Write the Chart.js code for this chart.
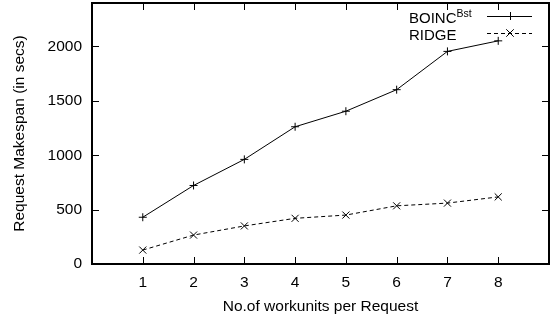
<!DOCTYPE html>
<html>
<head>
<meta charset="utf-8">
<script src="https://cdn.jsdelivr.net/npm/chart.js@4"></script>
<style>
  html, body { margin: 0; padding: 0; background: #fff; }
  #wrap { width: 552px; height: 322px; }
</style>
</head>
<body>
<div id="wrap"><canvas id="chart" width="552" height="322"></canvas></div>
<script>
// workunits per request
const workunits = [1, 2, 3, 4, 5, 6, 7, 8];
const boincBst = [430, 722, 962, 1262, 1405, 1603, 1955, 2052];
const ridge = [128, 266, 350, 420, 450, 535, 560, 617];
const yTicks = [0, 500, 1000, 1500, 2000];
const seriesNames = ['BOINC', 'RIDGE'];
const seriesSup = ['Bst', ''];

const FONT = 'Liberation Sans, Arial, Helvetica, sans-serif';
const FS = 15.5;

function toPoints(vals) {
    return workunits.map((x, i) => ({ x: x, y: vals[i] }));
}

// frame + inward ticks on all four sides, gnuplot style
const framePlugin = {
    id: 'frame',
    afterDatasetsDraw(chart) {
        const { ctx, chartArea: a, scales } = chart;
        ctx.save();
        ctx.strokeStyle = '#000';
        ctx.lineWidth = 1;
        const tl = 7;
        ctx.beginPath();
        workunits.forEach(v => {
            const px = Math.round(scales.x.getPixelForValue(v)) + 0.5;
            ctx.moveTo(px, a.bottom); ctx.lineTo(px, a.bottom - tl);
            ctx.moveTo(px, a.top); ctx.lineTo(px, a.top + tl);
        });
        yTicks.forEach(v => {
            const py = Math.round(scales.y.getPixelForValue(v)) + 0.5;
            ctx.moveTo(a.left, py); ctx.lineTo(a.left + tl, py);
            ctx.moveTo(a.right, py); ctx.lineTo(a.right - tl, py);
        });
        ctx.stroke();
        ctx.lineWidth = 2;
        ctx.strokeRect(a.left, a.top, a.right - a.left, a.bottom - a.top);
        ctx.restore();
    }
};

// key in the top right corner, text then line sample
const keyPlugin = {
    id: 'key',
    afterDraw(chart) {
        const { ctx, chartArea: a } = chart;
        ctx.save();
        ctx.fillStyle = '#000';
        ctx.textBaseline = 'alphabetic';
        chart.data.datasets.forEach((ds, i) => {
            const rowY = a.top + 13 + i * 17;
            const tx = a.right - 140;
            ctx.font = '15px ' + FONT;
            ctx.fillText(seriesNames[i], tx, rowY + 7);
            if (seriesSup[i]) {
                const w = ctx.measureText(seriesNames[i]).width;
                ctx.font = '10.5px ' + FONT;
                ctx.fillText(seriesSup[i], tx + w, rowY + 0.5);
            }
            const x0 = a.right - 62, x1 = a.right - 17;
            ctx.strokeStyle = '#000';
            ctx.lineWidth = 1;
            ctx.setLineDash(ds.borderDash || []);
            ctx.beginPath();
            ctx.moveTo(x0, rowY + 0.5);
            ctx.lineTo(x1, rowY + 0.5);
            ctx.stroke();
            ctx.setLineDash([]);
            const cx = Math.round((x0 + x1) / 2), r = ds.pointRadius;
            ctx.beginPath();
            if (ds.pointStyle === 'cross') {
                ctx.moveTo(cx - r, rowY + 0.5); ctx.lineTo(cx + r, rowY + 0.5);
                ctx.moveTo(cx + 0.5, rowY - r); ctx.lineTo(cx + 0.5, rowY + r);
            } else {
                const d = r * 0.75;
                ctx.moveTo(cx - d, rowY - d); ctx.lineTo(cx + d, rowY + d);
                ctx.moveTo(cx - d, rowY + d); ctx.lineTo(cx + d, rowY - d);
            }
            ctx.stroke();
        });
        ctx.restore();
    }
};

new Chart(document.getElementById('chart'), {
    type: 'line',
    data: {
        datasets: [{
            label: seriesNames[0],
            data: toPoints(boincBst),
            borderColor: '#000',
            borderWidth: 1,
            pointStyle: 'cross',
            pointRadius: 4,
            pointBorderColor: '#000',
            pointBorderWidth: 1,
            fill: false,
            tension: 0
        }, {
            label: seriesNames[1],
            data: toPoints(ridge),
            borderColor: '#000',
            borderWidth: 1,
            borderDash: [4, 3],
            pointStyle: 'crossRot',
            pointRadius: 5,
            pointBorderColor: '#000',
            pointBorderWidth: 1,
            fill: false,
            tension: 0
        }]
    },
    options: {
        responsive: false,
        animation: false,
        layout: { padding: { top: 3, right: 3, left: 0, bottom: 0 }, autoPadding: false },
        plugins: { legend: { display: false }, tooltip: { enabled: false } },
        scales: {
            x: {
                type: 'linear',
                min: 0,
                max: 9,
                grid: { display: false, drawTicks: false },
                border: { display: false },
                afterBuildTicks: s => { s.ticks = workunits.map(v => ({ value: v })); },
                afterFit: s => { s.height = 58; s.paddingLeft = 0; s.paddingRight = 0; },
                ticks: { color: '#000', font: { family: FONT, size: FS }, padding: 9, maxRotation: 0,
                    callback: v => String(v) },
                title: {
                    display: true,
                    text: 'No.of workunits per Request',
                    color: '#000',
                    font: { family: FONT, size: FS },
                    padding: { top: 0, bottom: 6 }
                }
            },
            y: {
                min: 0,
                max: 2400,
                grid: { display: false, drawTicks: false },
                border: { display: false },
                afterBuildTicks: s => { s.ticks = yTicks.map(v => ({ value: v })); },
                afterFit: s => { s.width = 92; s.paddingTop = 0; s.paddingBottom = 0; },
                ticks: { color: '#000', font: { family: FONT, size: FS }, padding: 10,
                    callback: v => String(v) },
                title: {
                    display: true,
                    text: 'Request Makespan (in secs)',
                    color: '#000',
                    font: { family: FONT, size: FS },
                    padding: { top: 10, bottom: 0 }
                }
            }
        }
    },
    plugins: [framePlugin, keyPlugin]
});
</script>
</body>
</html>
